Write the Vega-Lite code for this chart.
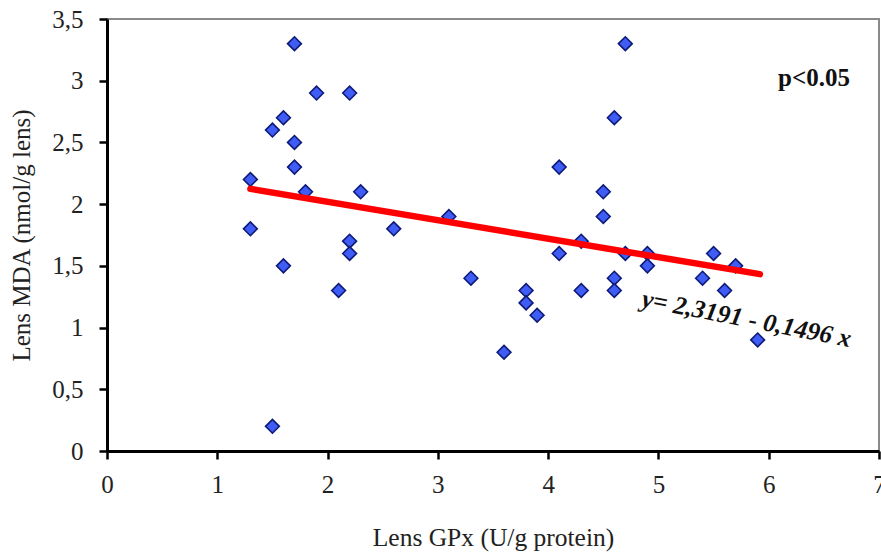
{
  "$schema": "https://vega.github.io/schema/vega-lite/v6.json",
  "width": 772,
  "height": 432,
  "autosize": {"type": "none"},
  "padding": {"left": 107, "top": 19, "right": 2, "bottom": 101},
  "background": "white",
  "config": {
    "view": {"stroke": "#8a8a8a", "strokeWidth": 2},
    "font": "Liberation Serif"
  },
  "datasets": {
    "points": [
      {"gpx": 1.3, "mda": 2.2}, {"gpx": 1.3, "mda": 1.8},
      {"gpx": 1.5, "mda": 2.6}, {"gpx": 1.5, "mda": 0.2},
      {"gpx": 1.6, "mda": 2.7}, {"gpx": 1.6, "mda": 1.5},
      {"gpx": 1.7, "mda": 3.3}, {"gpx": 1.7, "mda": 2.5},
      {"gpx": 1.7, "mda": 2.3}, {"gpx": 1.8, "mda": 2.1},
      {"gpx": 1.9, "mda": 2.9}, {"gpx": 2.1, "mda": 1.3},
      {"gpx": 2.2, "mda": 2.9}, {"gpx": 2.2, "mda": 1.7},
      {"gpx": 2.2, "mda": 1.6}, {"gpx": 2.3, "mda": 2.1},
      {"gpx": 2.6, "mda": 1.8}, {"gpx": 3.1, "mda": 1.9},
      {"gpx": 3.3, "mda": 1.4}, {"gpx": 3.6, "mda": 0.8},
      {"gpx": 3.8, "mda": 1.3}, {"gpx": 3.8, "mda": 1.2},
      {"gpx": 3.9, "mda": 1.1}, {"gpx": 4.1, "mda": 2.3},
      {"gpx": 4.1, "mda": 1.6}, {"gpx": 4.3, "mda": 1.7},
      {"gpx": 4.3, "mda": 1.3}, {"gpx": 4.5, "mda": 2.1},
      {"gpx": 4.5, "mda": 1.9}, {"gpx": 4.6, "mda": 2.7},
      {"gpx": 4.6, "mda": 1.4}, {"gpx": 4.6, "mda": 1.3},
      {"gpx": 4.7, "mda": 3.3}, {"gpx": 4.7, "mda": 1.6},
      {"gpx": 4.9, "mda": 1.6}, {"gpx": 4.9, "mda": 1.5},
      {"gpx": 5.4, "mda": 1.4}, {"gpx": 5.5, "mda": 1.6},
      {"gpx": 5.6, "mda": 1.3}, {"gpx": 5.7, "mda": 1.5},
      {"gpx": 5.9, "mda": 0.9}
    ],
    "fit": [
      {"gpx": 1.3, "mda": 2.124},
      {"gpx": 5.92, "mda": 1.433}
    ],
    "labels": [
      {"gpx": 6.41, "mda": 3.02, "text": "p<0.05", "kind": "p"},
      {"gpx": 5.8, "mda": 1.07, "text": "y= 2,3191 - 0,1496 x", "kind": "eq"}
    ]
  },
  "encoding": {
    "x": {
      "field": "gpx", "type": "quantitative",
      "scale": {"domain": [0, 7], "nice": false, "zero": true},
      "axis": {
        "title": "Lens GPx (U/g protein)",
        "values": [0, 1, 2, 3, 4, 5, 6, 7],
        "grid": false,
        "domainColor": "black", "domainWidth": 3,
        "tickColor": "black", "tickWidth": 2.5, "tickSize": 8,
        "labelFont": "Liberation Serif", "labelFontSize": 25, "labelColor": "#222",
        "labelPadding": 13,
        "labelFlush": false,
        "titleFont": "Liberation Serif", "titleFontSize": 25.5, "titleFontWeight": "normal",
        "titleColor": "#222", "titlePadding": 28
      }
    },
    "y": {
      "field": "mda", "type": "quantitative",
      "scale": {"domain": [0, 3.5], "nice": false},
      "axis": {
        "title": "Lens MDA (nmol/g lens)",
        "values": [0, 0.5, 1, 1.5, 2, 2.5, 3, 3.5],
        "labelExpr": "replace(format(datum.value, '~g'), '.', ',')",
        "grid": false,
        "domainColor": "black", "domainWidth": 3,
        "tickColor": "black", "tickWidth": 2.5, "tickSize": 8,
        "labelFont": "Liberation Serif", "labelFontSize": 25, "labelColor": "#222",
        "labelPadding": 16,
        "labelFlush": false,
        "titleFont": "Liberation Serif", "titleFontSize": 25, "titleFontWeight": "normal",
        "titleColor": "#222", "titlePadding": 17
      }
    }
  },
  "layer": [
    {
      "data": {"name": "points"},
      "mark": {"type": "point", "shape": "diamond", "filled": true, "size": 190,
               "fill": "#3f5df5", "stroke": "#0d1a78", "strokeWidth": 1.6, "opacity": 1}
    },
    {
      "data": {"name": "fit"},
      "mark": {"type": "line", "color": "#ff0000", "strokeWidth": 6.5, "strokeCap": "round"}
    },
    {
      "data": {"name": "labels"},
      "transform": [{"filter": "datum.kind === 'p'"}],
      "mark": {"type": "text", "fontSize": 25, "fontWeight": "bold", "font": "Liberation Serif",
               "color": "#111", "align": "center", "baseline": "middle"},
      "encoding": {"text": {"field": "text"}}
    },
    {
      "data": {"name": "labels"},
      "transform": [{"filter": "datum.kind === 'eq'"}],
      "mark": {"type": "text", "fontSize": 25.5, "fontWeight": "bold", "fontStyle": "italic",
               "font": "Liberation Serif", "color": "#111", "align": "center",
               "baseline": "middle", "angle": 11},
      "encoding": {"text": {"field": "text"}}
    }
  ]
}
